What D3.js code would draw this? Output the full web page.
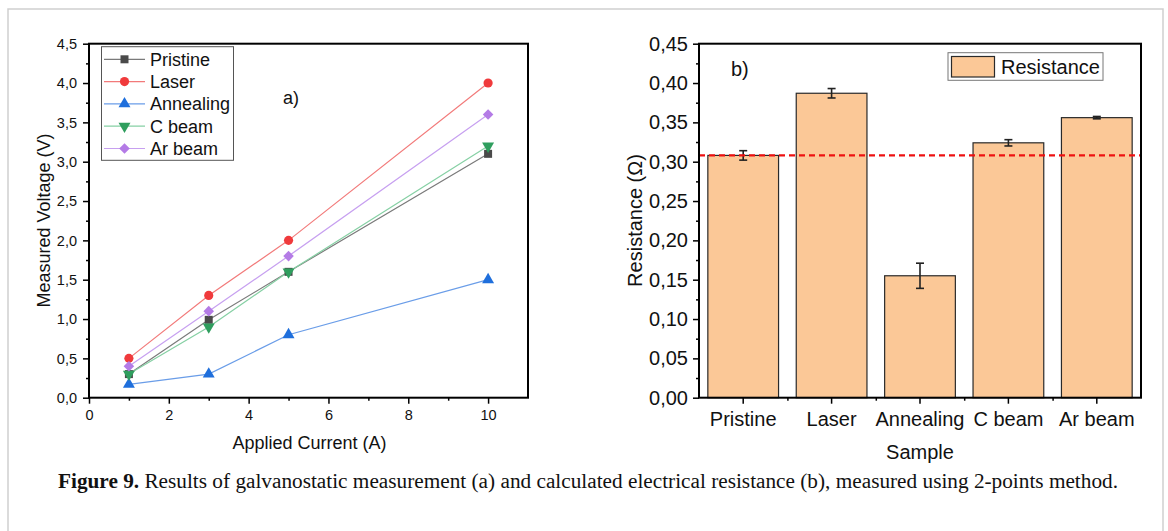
<!DOCTYPE html>
<html>
<head>
<meta charset="utf-8">
<script src="https://cdn.jsdelivr.net/npm/d3@7"></script>
<style>
  body { margin: 0; background: #fff; }
  svg { display: block; font-family: "Liberation Sans", Arial, sans-serif; }
</style>
</head>
<body>
<script>
// panel a) data
const currents = [1, 3, 5, 10];
const seriesNames = ["Pristine", "Laser", "Annealing", "C beam", "Ar beam"];
const pristineV = [0.30, 0.99, 1.60, 3.10];
const laserV = [0.50, 1.30, 2.00, 4.00];
const annealingV = [0.17, 0.30, 0.80, 1.50];
const cbeamV = [0.30, 0.90, 1.60, 3.20];
const arbeamV = [0.40, 1.10, 1.80, 3.60];

// panel b) data
const samples = ["Pristine", "Laser", "Annealing", "C beam", "Ar beam"];
const resistance = [0.308, 0.387, 0.155, 0.324, 0.356];
const resErr = [0.006, 0.006, 0.016, 0.004, 0.0015];
const refLine = 0.308;

const W = 1168, H = 531;
const svg = d3.select("body").append("svg").attr("width", W).attr("height", H);

// outer frame of the figure
svg.append("path")
  .attr("d", "M8,531 L8,9 L1163,9 L1163,531")
  .attr("fill", "none").attr("stroke", "#cfcfcf").attr("stroke-width", 1.5);

const comma = f => (v => d3.format(f)(v).replace(".", ","));

// ---------------- panel a ----------------
const ax = {left: 89, right: 528, top: 43.7, bottom: 397.7};
const x1 = d3.scaleLinear().domain([0, 11]).range([ax.left, ax.right]);
const y1 = d3.scaleLinear().domain([0, 4.5]).range([ax.bottom, ax.top]);

const gA = svg.append("g");

// minor ticks
gA.append("g").attr("transform", `translate(0,${ax.bottom})`)
  .call(d3.axisBottom(x1).tickValues(d3.range(1, 11, 2)).tickSize(3).tickFormat(""))
  .call(g => g.select(".domain").remove())
  .selectAll("line").attr("stroke-width", 1.5);
gA.append("g").attr("transform", `translate(${ax.left},0)`)
  .call(d3.axisLeft(y1).tickValues(d3.range(0.25, 4.5, 0.5)).tickSize(3).tickFormat(""))
  .call(g => g.select(".domain").remove())
  .selectAll("line").attr("stroke-width", 1.5);

// major ticks
const xa1 = gA.append("g").attr("transform", `translate(0,${ax.bottom})`)
  .call(d3.axisBottom(x1).tickValues(d3.range(0, 11, 2)).tickSize(6).tickPadding(6).tickFormat(d3.format("d")));
xa1.select(".domain").remove();
xa1.selectAll("line").attr("stroke-width", 1.5);
xa1.selectAll("text").attr("font-size", 14.5).attr("fill", "#111").attr("font-family", "Liberation Sans, Arial");

const ya1 = gA.append("g").attr("transform", `translate(${ax.left},0)`)
  .call(d3.axisLeft(y1).tickValues(d3.range(0, 4.51, 0.5)).tickSize(6).tickPadding(6).tickFormat(comma(".1f")));
ya1.select(".domain").remove();
ya1.selectAll("line").attr("stroke-width", 1.5);
ya1.selectAll("text").attr("font-size", 14.5).attr("fill", "#111").attr("font-family", "Liberation Sans, Arial");

gA.append("rect")
  .attr("x", ax.left).attr("y", ax.top)
  .attr("width", ax.right - ax.left).attr("height", ax.bottom - ax.top)
  .attr("fill", "none").attr("stroke", "#000").attr("stroke-width", 2);

const series = [
  {name: seriesNames[0], vals: pristineV, line: "#7a7a7a", mark: "#4a4a4a", sym: d3.symbolSquare, size: 64},
  {name: seriesNames[1], vals: laserV, line: "#f27a7a", mark: "#f03a3c", sym: d3.symbolCircle, size: 66},
  {name: seriesNames[2], vals: annealingV, line: "#6a9de8", mark: "#1f6fdc", sym: d3.symbolTriangle, size: 62},
  {name: seriesNames[3], vals: cbeamV, line: "#86d0a4", mark: "#2f9e5e", sym: d3.symbolTriangle, size: 62, rot: 180},
  {name: seriesNames[4], vals: arbeamV, line: "#c7a0f0", mark: "#b47be6", sym: d3.symbolSquare, size: 56, rot: 45}
];

const line1 = d3.line().x((d, i) => x1(currents[i])).y(d => y1(d));
series.forEach(s => {
  gA.append("path").datum(s.vals).attr("d", line1)
    .attr("fill", "none").attr("stroke", s.line).attr("stroke-width", 1.2);
});
series.forEach(s => {
  gA.selectAll(null).data(s.vals).join("path")
    .attr("d", d3.symbol().type(s.sym).size(s.size))
    .attr("transform", (d, i) => `translate(${x1(currents[i])},${y1(d)})` + (s.rot ? ` rotate(${s.rot})` : ""))
    .attr("fill", s.mark);
});

// legend a
const lg = gA.append("g");
lg.append("rect").attr("x", 101.5).attr("y", 46.7).attr("width", 132).attr("height", 113.6)
  .attr("fill", "#fff").attr("stroke", "#555").attr("stroke-width", 1);
series.forEach((s, i) => {
  const yy = 59.3 + i * 22.3;
  lg.append("line").attr("x1", 104).attr("x2", 145).attr("y1", yy).attr("y2", yy)
    .attr("stroke", s.line).attr("stroke-width", 1.2);
  lg.append("path").attr("d", d3.symbol().type(s.sym).size(s.size))
    .attr("transform", `translate(124.5,${yy})` + (s.rot ? ` rotate(${s.rot})` : ""))
    .attr("fill", s.mark);
  lg.append("text").attr("x", 150).attr("y", yy + 6.3).attr("font-size", 18).attr("fill", "#111").text(s.name);
});

gA.append("text").attr("x", 283).attr("y", 104).attr("font-size", 18).attr("fill", "#111").text("a)");

gA.append("text").attr("x", (ax.left + ax.right) / 2 + 1).attr("y", 449)
  .attr("text-anchor", "middle").attr("font-size", 18).attr("fill", "#111").text("Applied Current (A)");
gA.append("text").attr("transform", "translate(49.5,220.5) rotate(-90)")
  .attr("text-anchor", "middle").attr("font-size", 18).attr("fill", "#111").text("Measured Voltage (V)");

// ---------------- panel b ----------------
const bx = {left: 699, right: 1141, top: 43.7, bottom: 397.7};
const x2 = d3.scaleBand().domain(samples).range([bx.left, bx.right]).paddingInner(0.2).paddingOuter(0.1);
const y2 = d3.scaleLinear().domain([0, 0.45]).range([bx.bottom, bx.top]);
const gB = svg.append("g");

// minor ticks
gB.append("g").attr("transform", `translate(${bx.left},0)`)
  .call(d3.axisLeft(y2).tickValues(d3.range(0.025, 0.45, 0.05)).tickSize(3).tickFormat(""))
  .call(g => g.select(".domain").remove())
  .selectAll("line").attr("stroke-width", 1.5);
const step = x2.step();
gB.append("g").attr("transform", `translate(0,${bx.bottom})`)
  .call(d3.axisBottom(d3.scaleLinear().domain([0, 1]).range([0, 1]))
    .tickValues(d3.range(1, samples.length).map(i => bx.left + i * step)).tickSize(3).tickFormat(""))
  .call(g => g.select(".domain").remove())
  .selectAll("line").attr("stroke-width", 1.5);

const ya2 = gB.append("g").attr("transform", `translate(${bx.left},0)`)
  .call(d3.axisLeft(y2).tickValues(d3.range(0, 0.451, 0.05)).tickSize(6).tickPadding(5).tickFormat(comma(".2f")));
ya2.select(".domain").remove();
ya2.selectAll("line").attr("stroke-width", 1.5);
ya2.selectAll("text").attr("font-size", 20).attr("fill", "#111").attr("font-family", "Liberation Sans, Arial");

// bars
gB.selectAll(".bar").data(samples).join("rect")
  .attr("x", d => x2(d)).attr("width", x2.bandwidth())
  .attr("y", (d, i) => y2(resistance[i])).attr("height", (d, i) => bx.bottom - y2(resistance[i]))
  .attr("fill", "#fbc897").attr("stroke", "#2a2a2a").attr("stroke-width", 1.2);

// error bars
samples.forEach((s, i) => {
  const cx = x2(s) + x2.bandwidth() / 2;
  const yt = y2(resistance[i] + resErr[i]), yb = y2(resistance[i] - resErr[i]);
  const e = gB.append("g").attr("stroke", "#222").attr("stroke-width", 1.6);
  e.append("line").attr("x1", cx).attr("x2", cx).attr("y1", yt).attr("y2", yb);
  e.append("line").attr("x1", cx - 4).attr("x2", cx + 4).attr("y1", yt).attr("y2", yt);
  e.append("line").attr("x1", cx - 4).attr("x2", cx + 4).attr("y1", yb).attr("y2", yb);
});

// reference line
gB.append("line").attr("x1", bx.left).attr("x2", bx.right)
  .attr("y1", y2(refLine)).attr("y2", y2(refLine))
  .attr("stroke", "#ee1111").attr("stroke-width", 2.2).attr("stroke-dasharray", "6,4");

const xa2 = gB.append("g").attr("transform", `translate(0,${bx.bottom})`)
  .call(d3.axisBottom(x2).tickSize(6).tickPadding(8));
xa2.select(".domain").remove();
xa2.selectAll("line").attr("stroke-width", 1.5);
xa2.selectAll("text").attr("font-size", 20).attr("fill", "#111").attr("font-family", "Liberation Sans, Arial");

gB.append("rect")
  .attr("x", bx.left).attr("y", bx.top)
  .attr("width", bx.right - bx.left).attr("height", bx.bottom - bx.top)
  .attr("fill", "none").attr("stroke", "#000").attr("stroke-width", 2);

// legend b
gB.append("rect").attr("x", 948).attr("y", 52.7).attr("width", 155).attr("height", 27.6)
  .attr("fill", "#fff").attr("stroke", "#777").attr("stroke-width", 1);
gB.append("rect").attr("x", 951.5).attr("y", 56.5).attr("width", 43).attr("height", 20.5)
  .attr("fill", "#fbc897").attr("stroke", "#2a2a2a").attr("stroke-width", 1.2);
gB.append("text").attr("x", 1001).attr("y", 73.5).attr("font-size", 20).attr("fill", "#111").text("Resistance");

gB.append("text").attr("x", 731).attr("y", 76).attr("font-size", 20).attr("fill", "#111").text("b)");

gB.append("text").attr("x", (bx.left + bx.right) / 2).attr("y", 459)
  .attr("text-anchor", "middle").attr("font-size", 20).attr("fill", "#111").text("Sample");
gB.append("text").attr("transform", "translate(642,220.5) rotate(-90)")
  .attr("text-anchor", "middle").attr("font-size", 20).attr("fill", "#111").text("Resistance (Ω)");

// caption
const cap = svg.append("text").attr("x", 58).attr("y", 488)
  .attr("font-family", "Liberation Serif, 'Times New Roman', serif").attr("font-size", 20.5).attr("fill", "#111")
  .attr("textLength", 1060).attr("lengthAdjust", "spacingAndGlyphs");
cap.append("tspan").attr("font-weight", "bold").text("Figure 9.");
cap.append("tspan").text(" Results of galvanostatic measurement (a) and calculated electrical resistance (b), measured using 2-points method.");
</script>
</body>
</html>
